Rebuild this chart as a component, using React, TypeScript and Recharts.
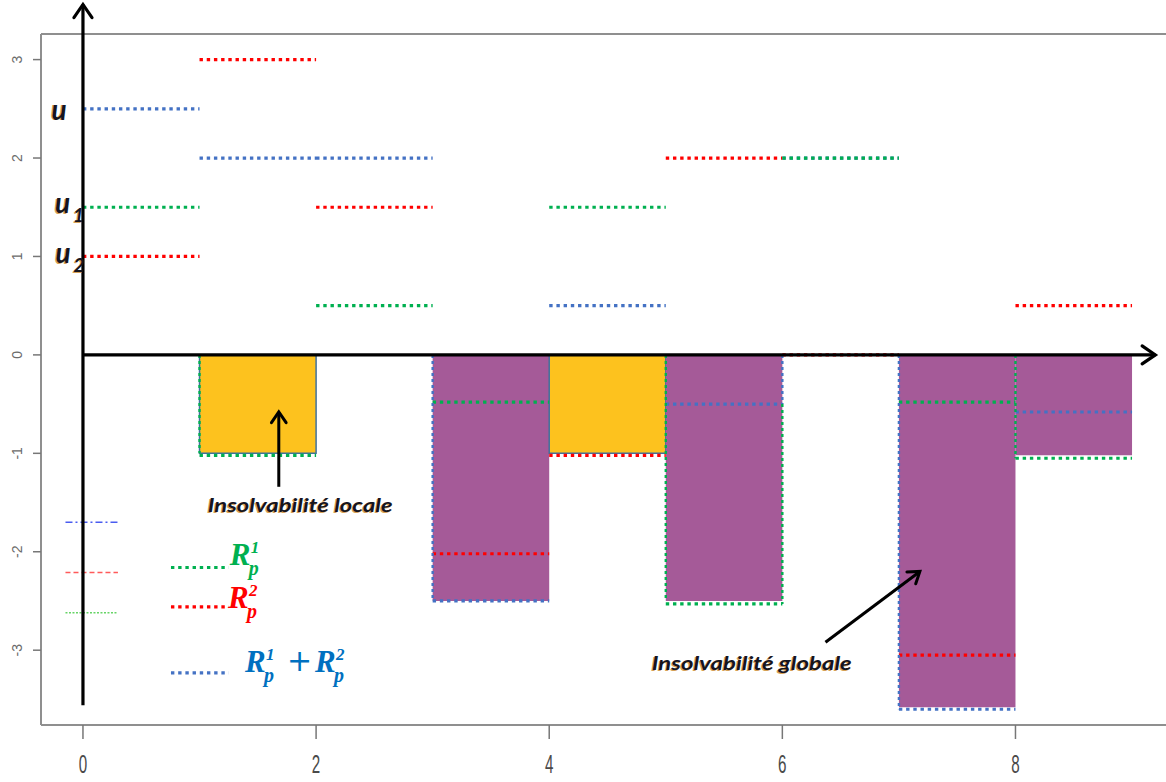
import React from "react";
import { ComposedChart, Line, XAxis, YAxis, ReferenceArea, ReferenceLine, ReferenceDot } from "recharts";

// one value per unit interval [start, start + 1)
const starts = [0, 1, 2, 3, 4, 5, 6, 7, 8];
const rp1 = [1.5, -1.02, 0.5, -0.48, 1.5, -2.53, 2, -0.48, -1.05];
const rp2 = [1, 3, 1.5, -2.02, -1.02, 2, 0, -3.05, 0.5];
const rpSum = [2.5, 2, 2, -2.5, 0.5, -0.5, 2, -3.6, -0.58];

// shaded insolvency bars
const barDepth = [0, -1, 0, -2.5, -1, -2.5, 0, -3.58, -1.02];
const barKind = ["", "locale", "", "globale", "locale", "globale", "", "globale", "globale"];

// dotted vertical edges along the bars
const edgeX = [1, 3, 5, 6, 6, 7, 8];
const edgeTop = [0, 0, 0, 0, -0.5, 0, 0];
const edgeBottom = [-1, -2.5, -2.5, -0.5, -2.53, -3.6, -1.05];
const edgeSeries = ["rp1", "rpSum", "rp1", "rpSum", "rp1", "rpSum", "rp1"];

// legends
const smallLegendY = [-1.7, -2.21, -2.62];
const smallLegendSeries = ["rpSum", "rp2", "rp1"];
const bigLegendY = [-2.16, -2.56, -3.23];
const bigLegendSeries = ["rp1", "rp2", "rpSum"];

const xTicks = [0, 2, 4, 6, 8];
const yTicks = [-3, -2, -1, 0, 1, 2, 3];

const COLORS: Record<string, string> = {
  rp1: "#00B050",
  rp2: "#FF0000",
  rpSum: "#4472C4",
};
const TEXT_COLORS: Record<string, string> = {
  rp1: "#00B050",
  rp2: "#FF0000",
  rpSum: "#0070C0",
};
const SMALL_LEGEND: Record<string, { color: string; dash: string }> = {
  rpSum: { color: "#4a5cf0", dash: "7 3 2 3" },
  rp2: { color: "#ff5a5a", dash: "5 3" },
  rp1: { color: "#66d466", dash: "2 1.5" },
};

const steps = (vals: number[]) =>
  vals.flatMap((v, i) => [
    { x: starts[i], y: v },
    { x: starts[i] + 1, y: v },
    { x: starts[i] + 1, y: null },
  ]);

const FRAME = "#8f8f8f";
const DOTS = "3.4 3.8";
const annotFont = "Lato, 'Open Sans', sans-serif";

const arrowShape = (width: number, head: number) => (p: any) => {
  const { x1, y1, x2, y2 } = p;
  const a = Math.atan2(y2 - y1, x2 - x1);
  const wx1 = x2 - head * Math.cos(a - 0.6);
  const wy1 = y2 - head * Math.sin(a - 0.6);
  const wx2 = x2 - head * Math.cos(a + 0.6);
  const wy2 = y2 - head * Math.sin(a + 0.6);
  return (
    <g>
      <line x1={x1} y1={y1} x2={x2} y2={y2} stroke="#000" strokeWidth={width} />
      <polyline
        points={`${wx1},${wy1} ${x2},${y2} ${wx2},${wy2}`}
        fill="none"
        stroke="#000"
        strokeWidth={width}
        strokeLinecap="round"
      />
    </g>
  );
};

const glowText = (label: string, size: number, length: number) => (p: any) => (
  <g>
    <text x={p.cx - 1.2} y={p.cy + 0.8} fontFamily={annotFont} fontWeight="bold" fontStyle="italic"
      fontSize={size} fill="#c8821e" opacity={0.75} textLength={length} lengthAdjust="spacingAndGlyphs">
      {label}
    </text>
    <text x={p.cx} y={p.cy} fontFamily={annotFont} fontWeight="bold" fontStyle="italic"
      fontSize={size} fill="#15151f" textLength={length} lengthAdjust="spacingAndGlyphs">
      {label}
    </text>
  </g>
);

const uLabel = (sub: string) => (p: any) => (
  <g fontFamily={annotFont} fontWeight="bold" fontStyle="italic">
    <text x={p.cx - 1.2} y={p.cy + 0.8} fontSize={28} fill="#c8821e" opacity={0.75}>u</text>
    <text x={p.cx} y={p.cy} fontSize={28} fill="#15151f">u</text>
    {sub && (
      <>
        <text x={p.cx + 16.8} y={p.cy + 9.8} fontSize={19} fill="#c8821e" opacity={0.75}>{sub}</text>
        <text x={p.cx + 18} y={p.cy + 9} fontSize={19} fill="#15151f">{sub}</text>
      </>
    )}
  </g>
);

const rTerm = (x: number, y: number, sup: string, color: string) => (
  <g fill={color} fontFamily="'Liberation Serif', 'DejaVu Serif', serif" fontWeight="bold" fontStyle="italic">
    <text x={x} y={y} fontSize={31}>R</text>
    <text x={x + 21} y={y - 12} fontSize={17}>{sup}</text>
    <text x={x + 19} y={y + 10} fontSize={20}>p</text>
  </g>
);

const rLabel = (series: string, sup: string) => (p: any) => rTerm(p.cx, p.cy, sup, TEXT_COLORS[series]);

const rSumLabel = (p: any) => (
  <g>
    {rTerm(p.cx, p.cy, "1", TEXT_COLORS.rpSum)}
    <text x={p.cx + 42} y={p.cy - 1} fontSize={30} fill={TEXT_COLORS.rpSum} fontFamily="'DejaVu Sans', sans-serif">+</text>
    {rTerm(p.cx + 70, p.cy, "2", TEXT_COLORS.rpSum)}
  </g>
);

const YTick = (p: any) => {
  const bx = p.x - 11;
  return (
    <text x={bx} y={p.y} transform={`rotate(-90 ${bx} ${p.y})`} textAnchor="middle"
      fill="#6b6b6b" fontSize={14} fontFamily="'Liberation Sans', Arial, sans-serif">
      {p.payload.value}
    </text>
  );
};

const XTick = (p: any) => (
  <text transform={`translate(${p.x} ${p.y + 34}) scale(0.95 1.6)`} textAnchor="middle"
    fill="#4a4a4a" fontSize={16} fontFamily="'Liberation Sans', Arial, sans-serif">
    {p.payload.value}
  </text>
);

export default function App() {
  return (
    <div style={{ position: "absolute", left: 0, top: 0, width: 1166, height: 782, overflow: "hidden", background: "#fff" }}>
      <ComposedChart width={1180} height={782} margin={{ top: 34, right: 6, bottom: 0, left: 0 }}>
        <XAxis
          type="number"
          dataKey="x"
          domain={[-0.36, 9.36]}
          ticks={xTicks}
          allowDataOverflow
          height={57}
          tickSize={14}
          tickMargin={0}
          axisLine={{ stroke: FRAME, strokeWidth: 2 }}
          tickLine={{ stroke: "#777", strokeWidth: 1.5 }}
          tick={<XTick />}
        />
        <YAxis
          type="number"
          dataKey="y"
          domain={[-3.76, 3.26]}
          ticks={yTicks}
          interval={0}
          allowDataOverflow
          width={41}
          tickSize={8}
          tickMargin={0}
          axisLine={{ stroke: FRAME, strokeWidth: 2 }}
          tickLine={{ stroke: "#777", strokeWidth: 1.5 }}
          tick={<YTick />}
        />
        <ReferenceLine y={3.26} stroke={FRAME} strokeWidth={2} ifOverflow="visible" />

        {starts.map((s, i) =>
          barDepth[i] < 0 ? (
            <ReferenceArea
              key={"bar" + i}
              x1={s}
              x2={s + 1}
              y1={0}
              y2={barDepth[i]}
              fill={barKind[i] === "locale" ? "#FDC21E" : "#A55A98"}
              fillOpacity={1}
              stroke={barKind[i] === "locale" ? "#41719C" : "none"}
              strokeWidth={1.5}
              ifOverflow="visible"
            />
          ) : null
        )}

        <Line data={steps(rpSum)} dataKey="y" stroke={COLORS.rpSum} strokeWidth={3.2} strokeDasharray={DOTS}
          dot={false} activeDot={false} connectNulls={false} isAnimationActive={false} />
        <Line data={steps(rp2)} dataKey="y" stroke={COLORS.rp2} strokeWidth={3.2} strokeDasharray={DOTS}
          dot={false} activeDot={false} connectNulls={false} isAnimationActive={false} />
        <Line data={steps(rp1)} dataKey="y" stroke={COLORS.rp1} strokeWidth={3.2} strokeDasharray={DOTS}
          dot={false} activeDot={false} connectNulls={false} isAnimationActive={false} />

        {edgeX.map((x, i) => (
          <ReferenceLine
            key={"edge" + i}
            segment={[{ x, y: edgeTop[i] }, { x, y: edgeBottom[i] }]}
            stroke={COLORS[edgeSeries[i]]}
            strokeWidth={2.4}
            strokeDasharray="3 3"
            ifOverflow="visible"
          />
        ))}

        {smallLegendY.map((y, i) => (
          <ReferenceLine
            key={"sl" + i}
            segment={[{ x: -0.15, y }, { x: 0.3, y }]}
            stroke={SMALL_LEGEND[smallLegendSeries[i]].color}
            strokeWidth={1.6}
            strokeDasharray={SMALL_LEGEND[smallLegendSeries[i]].dash}
            ifOverflow="visible"
          />
        ))}
        {bigLegendY.map((y, i) => (
          <ReferenceLine
            key={"bl" + i}
            segment={[{ x: 0.755, y }, { x: 1.25, y }]}
            stroke={COLORS[bigLegendSeries[i]]}
            strokeWidth={3.2}
            strokeDasharray={DOTS}
            ifOverflow="visible"
          />
        ))}

        {/* axes drawn as arrows */}
        <ReferenceLine segment={[{ x: 0, y: -3.56 }, { x: 0, y: 3.56 }]} ifOverflow="visible" shape={arrowShape(3.2, 16)} />
        <ReferenceLine segment={[{ x: 0, y: 0 }, { x: 9.2, y: 0 }]} ifOverflow="visible" shape={arrowShape(3.2, 16)} />
        <ReferenceLine segment={[{ x: 1.68, y: -1.34 }, { x: 1.68, y: -0.58 }]} ifOverflow="visible" shape={arrowShape(3, 13)} />
        <ReferenceLine segment={[{ x: 6.37, y: -2.92 }, { x: 7.18, y: -2.2 }]} ifOverflow="visible" shape={arrowShape(3, 13)} />

        <ReferenceDot x={1.07} y={-1.595} r={0} ifOverflow="visible" shape={glowText("Insolvabilité locale", 19, 185)} />
        <ReferenceDot x={4.88} y={-3.2} r={0} ifOverflow="visible" shape={glowText("Insolvabilité globale", 19, 200)} />

        <ReferenceDot x={-0.27} y={2.39} r={0} ifOverflow="visible" shape={uLabel("")} />
        <ReferenceDot x={-0.24} y={1.44} r={0} ifOverflow="visible" shape={uLabel("1")} />
        <ReferenceDot x={-0.235} y={0.935} r={0} ifOverflow="visible" shape={uLabel("2")} />

        <ReferenceDot x={1.26} y={-2.133} r={0} ifOverflow="visible" shape={rLabel("rp1", "1")} />
        <ReferenceDot x={1.245} y={-2.57} r={0} ifOverflow="visible" shape={rLabel("rp2", "2")} />
        <ReferenceDot x={1.39} y={-3.22} r={0} ifOverflow="visible" shape={rSumLabel} />
      </ComposedChart>
    </div>
  );
}
